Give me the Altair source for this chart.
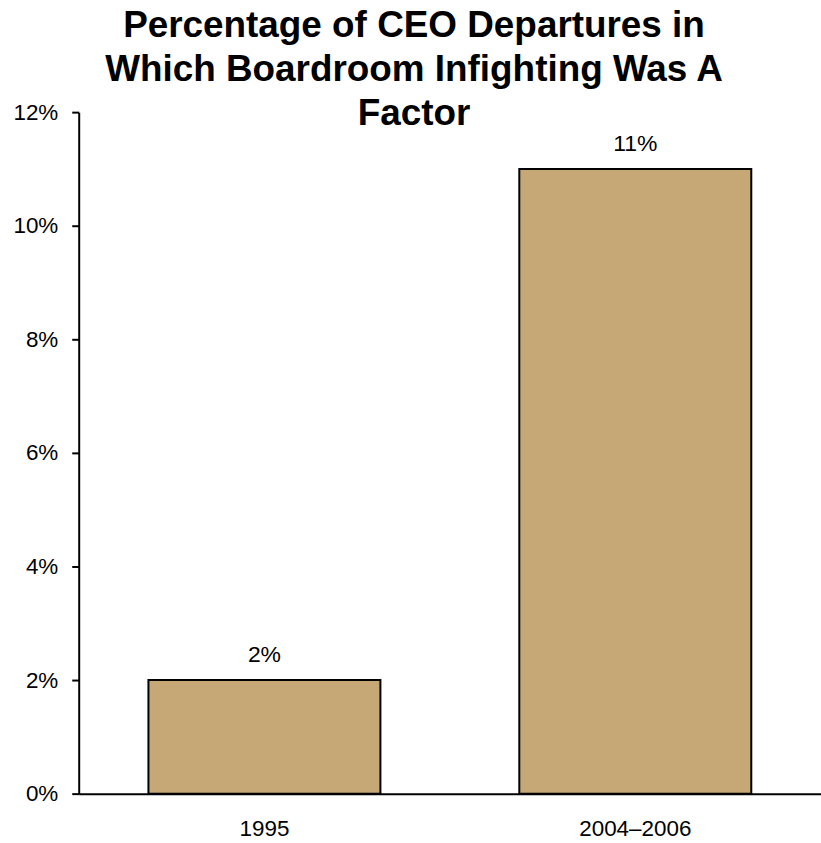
import altair as alt
import pandas as pd

periods = ["1995", "2004–2006"]
shares = [0.02, 0.11]
labels = ["2%", "11%"]
y_ticks = [0, 0.02, 0.04, 0.06, 0.08, 0.10, 0.12]

df = pd.DataFrame({"period": periods, "share": shares, "label": labels})

FONT = "Liberation Sans"

x_enc = alt.X(
    "period:N",
    sort=periods,
    title=None,
    scale=alt.Scale(paddingInner=0.3745, paddingOuter=0.188),
    axis=alt.Axis(labelAngle=0, ticks=False, labelPadding=24, labelFontSize=22.5,
                  labelColor="black", labelFont=FONT, domainColor="black", domainWidth=2,
                  grid=False),
)
y_enc = alt.Y(
    "share:Q",
    title=None,
    scale=alt.Scale(domain=[0, 0.12], nice=False),
    axis=alt.Axis(values=y_ticks, format=".0%", grid=False, tickSize=7, tickColor="black",
                  tickWidth=2, labelPadding=14, labelFontSize=22.5, labelColor="black",
                  labelFont=FONT, domainColor="black", domainWidth=2),
)

bars = alt.Chart(df).mark_bar(color="#c6a877", stroke="black", strokeWidth=2).encode(
    x=x_enc, y=y_enc
)
text = alt.Chart(df).mark_text(baseline="alphabetic", dy=-18, fontSize=23, font=FONT,
                               color="black").encode(
    x=alt.X("period:N", sort=periods),
    y=alt.Y("share:Q"),
    text="label:N",
)

chart = (
    alt.layer(bars, text)
    .properties(
        width=745,
        height=684,
        background="white",
        autosize=alt.AutoSizeParams(type="none"),
        padding={"left": 79, "top": 111, "right": 0, "bottom": 48},
        title=alt.TitleParams(
            text=["Percentage of CEO Departures in", "Which Boardroom Infighting Was A", "Factor"],
            font=FONT, fontSize=37, fontWeight="bold", color="black", anchor="middle",
            lineHeight=44, offset=-32, dx=-36,
        ),
    )
    .configure_view(strokeWidth=0, stroke="transparent")
    .configure_axis(grid=False)
)

chart.save("out.html", embed_options={"renderer": "svg", "actions": False})
